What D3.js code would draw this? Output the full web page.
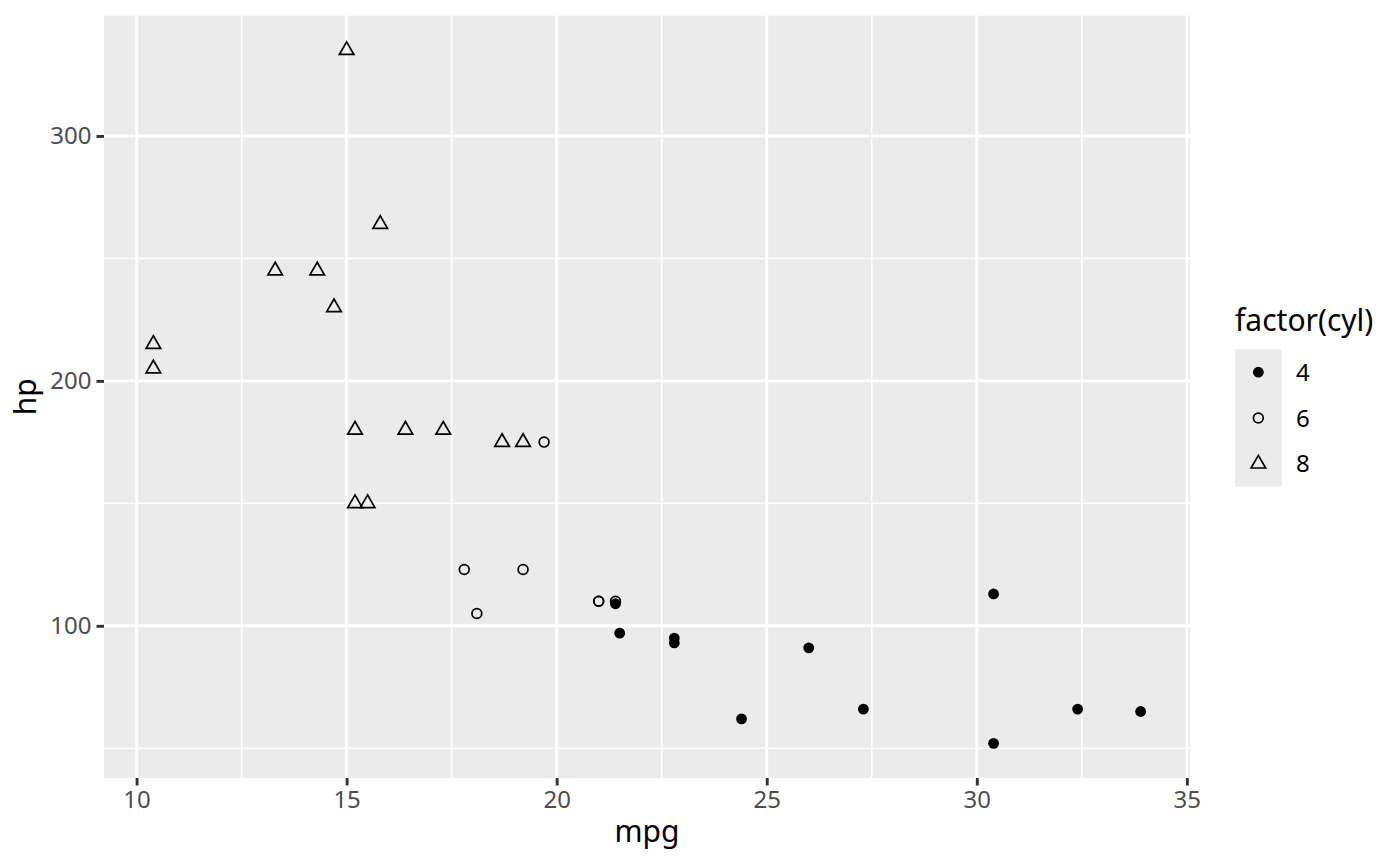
<!DOCTYPE html>
<html lang="en">
<head>
<meta charset="UTF-8">
<title>mpg vs hp</title>
<script src="https://d3js.org/d3.v7.min.js"></script>
<style>
  body { margin: 0; background: #fff; }
  svg { font-family: "Noto Sans", "Open Sans", sans-serif; }
  .tick-label { fill: #4D4D4D; font-size: 24px; }
  .axis-title { fill: #000; font-size: 30px; }
  .legend-label { fill: #000; font-size: 24px; }
</style>
</head>
<body>
<svg id="chart"></svg>
<script>
// mtcars: mpg, hp, cyl
const mpg = [21.0, 21.0, 22.8, 21.4, 18.7, 18.1, 14.3, 24.4, 22.8, 19.2, 17.8, 16.4, 17.3, 15.2, 10.4, 10.4,
             14.7, 32.4, 30.4, 33.9, 21.5, 15.5, 15.2, 13.3, 19.2, 27.3, 26.0, 30.4, 15.8, 19.7, 15.0, 21.4];
const hp  = [110, 110, 93, 110, 175, 105, 245, 62, 95, 123, 123, 180, 180, 180, 205, 215,
             230, 66, 52, 65, 97, 150, 150, 245, 175, 66, 91, 113, 264, 175, 335, 109];
const cyl = [6, 6, 4, 6, 8, 6, 8, 4, 4, 6, 6, 8, 8, 8, 8, 8,
             8, 4, 4, 4, 4, 8, 8, 8, 8, 4, 4, 4, 8, 6, 8, 4];

const cylLevels = ["4", "6", "8"];
const xTicks = [10, 15, 20, 25, 30, 35];
const xMinor = [12.5, 17.5, 22.5, 27.5, 32.5];
const yTicks = [100, 200, 300];
const yMinor = [50, 150, 250];

const width = 1400, height = 866;
const panel = { left: 104, right: 1190, top: 15.6, bottom: 778 };

const svg = d3.select("#chart").attr("width", width).attr("height", height);

// ggplot-style 5% expansion
const xr = d3.extent(mpg), yr = d3.extent(hp);
const xPad = (xr[1] - xr[0]) * 0.05, yPad = (yr[1] - yr[0]) * 0.05;
const x = d3.scaleLinear().domain([xr[0] - xPad, xr[1] + xPad]).range([panel.left, panel.right]);
const y = d3.scaleLinear().domain([yr[0] - yPad, yr[1] + yPad]).range([panel.bottom, panel.top]);

// panel background
svg.append("rect")
   .attr("x", panel.left).attr("y", panel.top)
   .attr("width", panel.right - panel.left).attr("height", panel.bottom - panel.top)
   .attr("fill", "#EBEBEB");

// grid lines
const grid = svg.append("g").attr("stroke", "#fff");
grid.selectAll(".xminor").data(xMinor).enter().append("line")
    .attr("x1", d => x(d)).attr("x2", d => x(d))
    .attr("y1", panel.top).attr("y2", panel.bottom).attr("stroke-width", 1.5);
grid.selectAll(".yminor").data(yMinor).enter().append("line")
    .attr("y1", d => y(d)).attr("y2", d => y(d))
    .attr("x1", panel.left).attr("x2", panel.right).attr("stroke-width", 1.5);
grid.selectAll(".xmajor").data(xTicks).enter().append("line")
    .attr("x1", d => x(d)).attr("x2", d => x(d))
    .attr("y1", panel.top).attr("y2", panel.bottom).attr("stroke-width", 2.9);
grid.selectAll(".ymajor").data(yTicks).enter().append("line")
    .attr("y1", d => y(d)).attr("y2", d => y(d))
    .attr("x1", panel.left).attr("x2", panel.right).attr("stroke-width", 2.9);

// axes
const xAxis = d3.axisBottom(x).tickValues(xTicks).tickSize(7.5).tickPadding(4);
const yAxis = d3.axisLeft(y).tickValues(yTicks).tickSize(7.5).tickPadding(5);

const gx = svg.append("g").attr("transform", `translate(0,${panel.bottom})`).call(xAxis);
const gy = svg.append("g").attr("transform", `translate(${panel.left},0)`).call(yAxis);
[gx, gy].forEach(g => {
  g.select(".domain").remove();
  g.selectAll(".tick line").attr("stroke", "#333333").attr("stroke-width", 2.9);
  g.selectAll(".tick text").attr("class", "tick-label").attr("fill", null);
  g.attr("font-family", null).attr("font-size", null);
});
gx.selectAll(".tick text").attr("dy", "0.76em");

svg.append("text").attr("class", "axis-title")
   .attr("x", (panel.left + panel.right) / 2).attr("y", 842)
   .attr("text-anchor", "middle").text("mpg");
svg.append("text").attr("class", "axis-title")
   .attr("transform", `translate(36,${(panel.top + panel.bottom) / 2}) rotate(-90)`)
   .attr("text-anchor", "middle").text("hp");

// shapes (R pch 19, 1, 2)
const R = 5.4;
function trianglePath(rad) {
  const trc0 = Math.sqrt(4 * Math.PI / (3 * Math.sqrt(3)));
  const r = trc0 * rad, yc = r / 2, xc = r * Math.sqrt(3) / 2;
  return `M0,${-r}L${xc},${yc}L${-xc},${yc}Z`;
}
function drawShape(sel, level) {
  if (level === "4") {
    sel.append("circle").attr("r", R).attr("fill", "#000");
  } else if (level === "6") {
    sel.append("circle").attr("r", R - 0.5).attr("fill", "none")
       .attr("stroke", "#000").attr("stroke-width", 1.7);
  } else {
    sel.append("path").attr("d", trianglePath(R)).attr("fill", "none")
       .attr("stroke", "#000").attr("stroke-width", 1.7).attr("stroke-linejoin", "miter");
  }
}

const points = svg.append("g");
mpg.forEach((m, i) => {
  const g = points.append("g").attr("transform", `translate(${x(m)},${y(hp[i])})`);
  drawShape(g, String(cyl[i]));
});

// legend
const legend = svg.append("g");
legend.append("text").attr("class", "axis-title")
      .attr("x", 1235).attr("y", 331).text("factor(cyl)");
const keyTop = 349.3, keySize = 45.8, keyLeft = 1235, keyW = 46.7;
legend.append("rect")
      .attr("x", keyLeft).attr("y", keyTop)
      .attr("width", keyW).attr("height", keySize * cylLevels.length)
      .attr("fill", "#EBEBEB");
cylLevels.forEach((lv, i) => {
  const cy = keyTop + keySize * (i + 0.5);
  const g = legend.append("g").attr("transform", `translate(${keyLeft + keyW / 2},${cy})`);
  drawShape(g, lv);
  legend.append("text").attr("class", "legend-label")
        .attr("x", 1296).attr("y", cy).attr("dy", "0.36em").text(lv);
});
</script>
</body>
</html>
